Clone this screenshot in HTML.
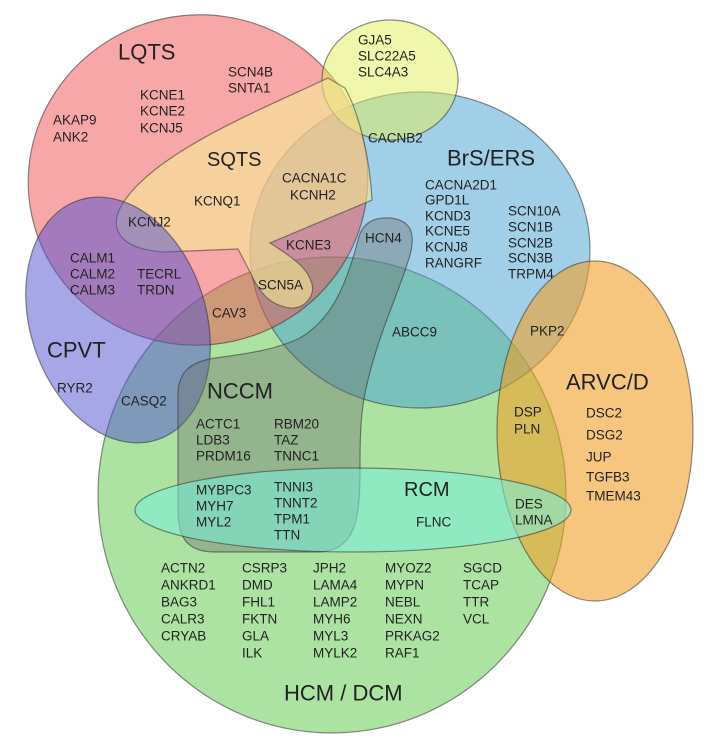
<!DOCTYPE html>
<html><head><meta charset="utf-8"><style>
html,body{margin:0;padding:0;background:#fff;}
svg{display:block}
text{font-family:"Liberation Sans",sans-serif;fill:#222;dominant-baseline:central}
.g{font-size:13.5px}
.t{font-size:22px}
</style></head><body>
<svg width="715" height="746" viewBox="0 0 715 746" xmlns="http://www.w3.org/2000/svg">
<g stroke="rgba(50,50,50,0.55)" stroke-width="1.2">
<ellipse cx="332" cy="495" rx="234" ry="238" fill="rgb(90,200,70)" fill-opacity="0.5"/>
<ellipse cx="420" cy="250" rx="170" ry="158" fill="rgb(70,160,210)" fill-opacity="0.5"/>
<ellipse cx="198" cy="180" rx="170" ry="165" transform="rotate(-12 198 180)" fill="rgb(240,80,80)" fill-opacity="0.5"/>
<ellipse cx="390" cy="80" rx="68" ry="60" fill="rgb(225,240,90)" fill-opacity="0.5"/>
<path d="M328,78 C260,110 160,150 125,200 C105,228 120,250 165,252 L238,249 L250,272 C258,290 268,305 290,308 C305,309 315,296 312,284 C308,270 300,262 270,243 L372,200 C370,160 360,115 345,88 Z" fill="rgb(245,235,150)" fill-opacity="0.6"/>
<ellipse cx="118" cy="320" rx="88" ry="126" transform="rotate(-18 118 320)" fill="rgb(80,80,210)" fill-opacity="0.5"/>
<ellipse cx="595" cy="431" rx="98" ry="170" fill="rgb(240,160,40)" fill-opacity="0.6"/>
<path d="M178,395 C178,372 190,362 215,358 C245,354 275,350 300,338 C330,320 345,290 358,240 C362,222 375,217 390,218 C410,220 416,232 410,255 C400,290 380,330 368,380 C360,410 360,440 360,470 C360,520 355,550 320,552 L215,552 C185,552 178,535 178,510 Z" fill="rgb(110,110,110)" fill-opacity="0.4"/>
<ellipse cx="353" cy="510" rx="218" ry="42" fill="rgb(120,240,220)" fill-opacity="0.55"/>
</g>
<text class="t" x="118" y="52">LQTS</text>
<text class="g" x="53" y="120">AKAP9</text><text class="g" x="53" y="137">ANK2</text>
<text class="g" x="140" y="95">KCNE1</text><text class="g" x="140" y="111">KCNE2</text><text class="g" x="140" y="128">KCNJ5</text>
<text class="g" x="228" y="72">SCN4B</text><text class="g" x="228" y="88">SNTA1</text>
<text class="g" x="358" y="40">GJA5</text><text class="g" x="358" y="56">SLC22A5</text><text class="g" x="358" y="72">SLC4A3</text>
<text class="t" x="207" y="160" style="font-size:20px">SQTS</text>
<text class="g" x="194" y="201">KCNQ1</text>
<text class="g" x="282" y="178">CACNA1C</text><text class="g" x="290" y="195">KCNH2</text>
<text class="g" x="368" y="138">CACNB2</text>
<text class="t" x="447" y="158">BrS/ERS</text>
<text class="g" x="425" y="185">CACNA2D1</text><text class="g" x="425" y="200">GPD1L</text><text class="g" x="425" y="216">KCND3</text><text class="g" x="425" y="231">KCNE5</text><text class="g" x="425" y="247">KCNJ8</text><text class="g" x="425" y="263">RANGRF</text>
<text class="g" x="508" y="211">SCN10A</text><text class="g" x="508" y="227">SCN1B</text><text class="g" x="508" y="243">SCN2B</text><text class="g" x="508" y="258">SCN3B</text><text class="g" x="508" y="274">TRPM4</text>
<text class="g" x="128" y="222">KCNJ2</text>
<text class="g" x="70" y="258">CALM1</text><text class="g" x="70" y="274">CALM2</text><text class="g" x="70" y="290">CALM3</text>
<text class="g" x="137" y="274">TECRL</text><text class="g" x="137" y="290">TRDN</text>
<text class="g" x="286" y="245">KCNE3</text>
<text class="g" x="365" y="238">HCN4</text>
<text class="g" x="258" y="285">SCN5A</text>
<text class="g" x="212" y="313">CAV3</text>
<text class="t" x="47" y="350">CPVT</text>
<text class="g" x="57" y="388">RYR2</text>
<text class="g" x="121" y="401">CASQ2</text>
<text class="t" x="207" y="391">NCCM</text>
<text class="g" x="392" y="332">ABCC9</text>
<text class="g" x="530" y="331">PKP2</text>
<text class="t" x="566" y="382">ARVC/D</text>
<text class="g" x="514" y="412">DSP</text><text class="g" x="514" y="429">PLN</text>
<text class="g" x="586" y="413">DSC2</text><text class="g" x="586" y="435">DSG2</text><text class="g" x="586" y="457">JUP</text><text class="g" x="586" y="477">TGFB3</text><text class="g" x="586" y="496">TMEM43</text>
<text class="g" x="196" y="424">ACTC1</text><text class="g" x="196" y="440">LDB3</text><text class="g" x="196" y="456">PRDM16</text>
<text class="g" x="274" y="424">RBM20</text><text class="g" x="274" y="440">TAZ</text><text class="g" x="274" y="456">TNNC1</text>
<text class="g" x="196" y="490">MYBPC3</text><text class="g" x="196" y="506">MYH7</text><text class="g" x="196" y="522">MYL2</text>
<text class="g" x="274" y="487">TNNI3</text><text class="g" x="274" y="503">TNNT2</text><text class="g" x="274" y="519">TPM1</text><text class="g" x="274" y="535">TTN</text>
<text class="t" x="404" y="490" style="font-size:20px">RCM</text>
<text class="g" x="416" y="522">FLNC</text>
<text class="g" x="515" y="504">DES</text><text class="g" x="515" y="520">LMNA</text>
<text class="g" x="161" y="568">ACTN2</text><text class="g" x="161" y="585">ANKRD1</text><text class="g" x="161" y="602">BAG3</text><text class="g" x="161" y="619">CALR3</text><text class="g" x="161" y="636">CRYAB</text>
<text class="g" x="242" y="568">CSRP3</text><text class="g" x="242" y="585">DMD</text><text class="g" x="242" y="602">FHL1</text><text class="g" x="242" y="619">FKTN</text><text class="g" x="242" y="636">GLA</text><text class="g" x="242" y="653">ILK</text>
<text class="g" x="313" y="568">JPH2</text><text class="g" x="313" y="585">LAMA4</text><text class="g" x="313" y="602">LAMP2</text><text class="g" x="313" y="619">MYH6</text><text class="g" x="313" y="636">MYL3</text><text class="g" x="313" y="653">MYLK2</text>
<text class="g" x="385" y="568">MYOZ2</text><text class="g" x="385" y="585">MYPN</text><text class="g" x="385" y="602">NEBL</text><text class="g" x="385" y="619">NEXN</text><text class="g" x="385" y="636">PRKAG2</text><text class="g" x="385" y="653">RAF1</text>
<text class="g" x="463" y="568">SGCD</text><text class="g" x="463" y="585">TCAP</text><text class="g" x="463" y="602">TTR</text><text class="g" x="463" y="619">VCL</text>
<text class="t" x="284" y="693">HCM / DCM</text>
</svg>
</body></html>
